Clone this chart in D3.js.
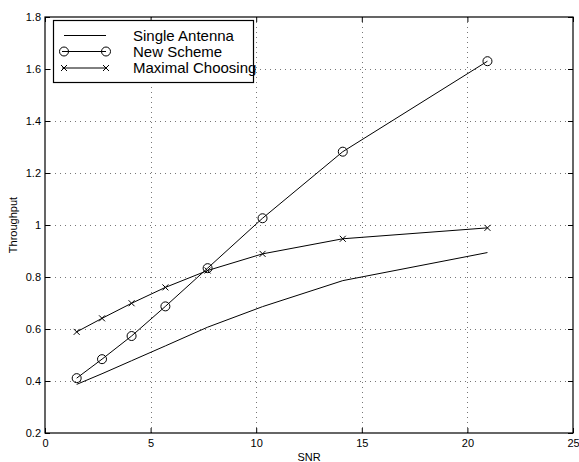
<!DOCTYPE html>
<html>
<head>
<meta charset="utf-8">
<script src="https://cdn.jsdelivr.net/npm/d3@7"></script>
<style>
  html, body { margin: 0; padding: 0; background: #fff; }
  svg { display: block; }
  text { font-family: "Liberation Sans", Arial, Helvetica, sans-serif; fill: #000; }
</style>
</head>
<body>
<div id="chart"></div>
<script>
// ---- data ----
const snr = [1.5, 2.7, 4.1, 5.7, 7.7, 10.3, 14.1, 20.95];
const singleAntenna = [0.387, 0.428, 0.478, 0.535, 0.607, 0.686, 0.786, 0.894];
const newScheme = [0.411, 0.484, 0.573, 0.687, 0.834, 1.026, 1.282, 1.630];
const maximalChoosing = [0.589, 0.641, 0.699, 0.760, 0.825, 0.889, 0.947, 0.989];
const seriesNames = ["Single Antenna", "New Scheme", "Maximal Choosing"];
const xTicks = [0, 5, 10, 15, 20, 25];
const yTicks = [0.2, 0.4, 0.6, 0.8, 1, 1.2, 1.4, 1.6, 1.8];
const xLabel = "SNR";
const yLabel = "Throughput";

// ---- layout ----
const W = 579, H = 462;
const L = 45, R = 573, T = 17, B = 433;

const svg = d3.select("#chart").append("svg").attr("width", W).attr("height", H);

const x = d3.scaleLinear().domain([0, 25]).range([L, R]);
const y = d3.scaleLinear().domain([0.2, 1.8]).range([B, T]);

// grid
const grid = svg.append("g").attr("stroke", "#777").attr("stroke-width", 1)
  .attr("stroke-dasharray", "1,4").attr("shape-rendering", "crispEdges");
xTicks.filter(v => v > 0 && v < 25).forEach(v => {
  grid.append("line").attr("x1", Math.round(x(v)) + 0.5).attr("x2", Math.round(x(v)) + 0.5)
    .attr("y1", T).attr("y2", B);
});
yTicks.filter(v => v > 0.2 && v < 1.8).forEach(v => {
  grid.append("line").attr("y1", Math.round(y(v)) + 0.5).attr("y2", Math.round(y(v)) + 0.5)
    .attr("x1", L).attr("x2", R);
});

// axes (inward ticks on all four sides)
const fmt = d => (d === 1 ? "1" : d3.format("")(d));
const axB = svg.append("g").attr("transform", `translate(0,${B})`)
  .call(d3.axisBottom(x).tickValues(xTicks).tickSize(-5).tickPadding(8).tickFormat(d3.format("d")));
const axT = svg.append("g").attr("transform", `translate(0,${T})`)
  .call(d3.axisTop(x).tickValues(xTicks).tickSize(-5).tickFormat(""));
const axL = svg.append("g").attr("transform", `translate(${L},0)`)
  .call(d3.axisLeft(y).tickValues(yTicks).tickSize(-5).tickPadding(8).tickFormat(fmt));
const axR = svg.append("g").attr("transform", `translate(${R},0)`)
  .call(d3.axisRight(y).tickValues(yTicks).tickSize(-5).tickFormat(""));
[axB, axT, axL, axR].forEach(a => {
  a.selectAll(".domain").remove();
  a.selectAll("line").attr("stroke", "#000");
  a.selectAll("text").style("font-size", "11px").attr("font-family", "Liberation Sans, Arial, sans-serif");
});
axB.selectAll("text").attr("dy", "0.71em").attr("y", 6);
axL.selectAll("text").attr("x", -4);

// frame
svg.append("rect").attr("x", L).attr("y", T).attr("width", R - L).attr("height", B - T)
  .attr("fill", "none").attr("stroke", "#000").attr("stroke-width", 1.2);

// axis labels
svg.append("text").attr("x", (L + R) / 2).attr("y", 461).attr("text-anchor", "middle")
  .style("font-size", "11px").text(xLabel);
svg.append("text").attr("transform", `translate(17,${(T + B) / 2}) rotate(-90)`)
  .attr("text-anchor", "middle").style("font-size", "11px").text(yLabel);

// series
const line = d3.line().x(d => x(d[0])).y(d => y(d[1]));
const mk = vals => snr.map((s, i) => [s, vals[i]]);
const dataA = mk(singleAntenna), dataN = mk(newScheme), dataM = mk(maximalChoosing);

function drawLine(data) {
  svg.append("path").datum(data).attr("d", line).attr("fill", "none")
    .attr("stroke", "#000").attr("stroke-width", 1);
}
function drawCircle(cx, cy) {
  svg.append("circle").attr("cx", cx).attr("cy", cy).attr("r", 4.5)
    .attr("fill", "none").attr("stroke", "#000").attr("stroke-width", 1);
}
function drawX(cx, cy) {
  const s = 3;
  svg.append("path").attr("d", `M${cx - s},${cy - s}L${cx + s},${cy + s}M${cx - s},${cy + s}L${cx + s},${cy - s}`)
    .attr("stroke", "#000").attr("stroke-width", 1).attr("fill", "none");
}

drawLine(dataA);
drawLine(dataN);
dataN.forEach(d => drawCircle(x(d[0]), y(d[1])));
drawLine(dataM);
dataM.forEach(d => drawX(x(d[0]), y(d[1])));

// legend
const lg = svg.append("g");
lg.append("rect").attr("x", 53.5).attr("y", 20.5).attr("width", 200).attr("height", 62)
  .attr("fill", "#fff").attr("stroke", "#000").attr("stroke-width", 1.2);
const rows = [35.5, 51.5, 68];
const lx1 = 62, lx2 = 106;
lg.append("line").attr("x1", lx1 + 2).attr("x2", lx2).attr("y1", rows[0]).attr("y2", rows[0]).attr("stroke", "#000");
lg.append("line").attr("x1", lx1).attr("x2", lx2).attr("y1", rows[1]).attr("y2", rows[1]).attr("stroke", "#000");
lg.append("line").attr("x1", lx1).attr("x2", lx2).attr("y1", rows[2]).attr("y2", rows[2]).attr("stroke", "#000");
drawCircle(lx1 + 2, rows[1]); drawCircle(lx2, rows[1]);
drawX(lx1 + 2, rows[2]); drawX(lx2, rows[2]);
seriesNames.forEach((n, i) => {
  lg.append("text").attr("x", 133).attr("y", rows[i] + 5).style("font-size", "15px").text(n);
});
</script>
</body>
</html>
